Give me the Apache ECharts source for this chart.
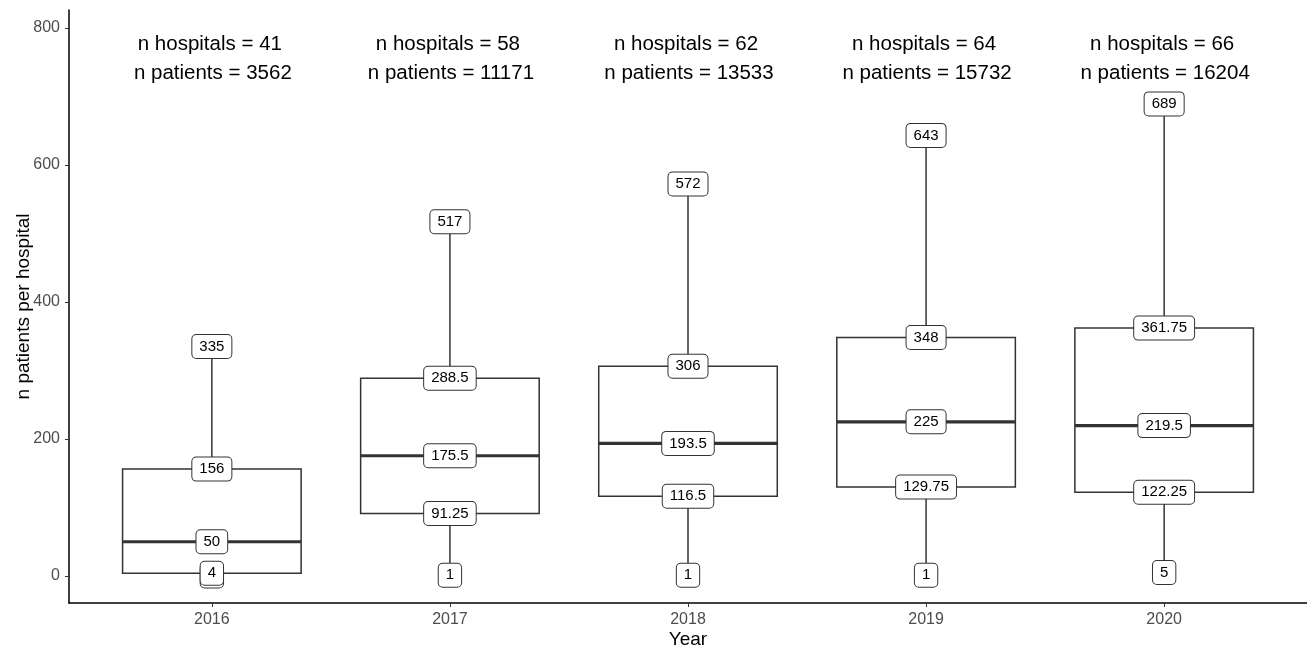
<!DOCTYPE html>
<html>
<head>
<meta charset="utf-8">
<script src="https://cdn.jsdelivr.net/npm/echarts@6/dist/echarts.min.js"></script>
<style>
html,body{margin:0;padding:0;background:#fff;}
#chart{width:1307px;height:649px;}
</style>
</head>
<body>
<div id="chart"></div>
<script>
var years = ['2016', '2017', '2018', '2019', '2020'];
var minVals = [0, 1, 1, 1, 5];
var q1Vals = [4, 91.25, 116.5, 129.75, 122.25];
var medianVals = [50, 175.5, 193.5, 225, 219.5];
var q3Vals = [156, 288.5, 306, 348, 361.75];
var maxVals = [335, 517, 572, 643, 689];
var nHospitals = [41, 58, 62, 64, 66];
var nPatients = [3562, 11171, 13533, 15732, 16204];
var yTicks = [0, 200, 400, 600, 800];
var hospTextY = 776;
var patTextY = 734;

var boxData = years.map(function (y, i) {
  return [i + 1, minVals[i], q1Vals[i], medianVals[i], q3Vals[i], maxVals[i]];
});
var annData = years.map(function (y, i) {
  return [i + 1, nHospitals[i], nPatients[i]];
});

var lineColor = '#333333';
var FONT = '"Liberation Sans", Arial, sans-serif';

function labelEl(x, y, txt) {
  return {
    type: 'text',
    x: x, y: y,
    style: {
      text: txt,
      fontSize: 15,
      fontFamily: FONT,
      fill: '#000',
      align: 'center',
      verticalAlign: 'middle',
      backgroundColor: '#fff',
      borderColor: '#333',
      borderWidth: 1,
      borderRadius: 4,
      padding: [5, 7, 3, 7]
    },
    z2: 10
  };
}

function renderBox(params, api) {
  var x = api.value(0);
  var vmin = api.value(1), vq1 = api.value(2), vmed = api.value(3), vq3 = api.value(4), vmax = api.value(5);
  var c = api.coord([x, 0]);
  var left = api.coord([x - 0.375, 0])[0];
  var right = api.coord([x + 0.375, 0])[0];
  var yMin = api.coord([x, vmin])[1];
  var yQ1 = api.coord([x, vq1])[1];
  var yMed = api.coord([x, vmed])[1];
  var yQ3 = api.coord([x, vq3])[1];
  var yMax = api.coord([x, vmax])[1];
  var cx = c[0];
  var ls = { stroke: lineColor, lineWidth: 1.5, fill: null };
  return {
    type: 'group',
    children: [
      { type: 'line', shape: { x1: cx, y1: yQ3, x2: cx, y2: yMax }, style: ls },
      { type: 'line', shape: { x1: cx, y1: yMin, x2: cx, y2: yQ1 }, style: ls },
      { type: 'rect', shape: { x: left, y: yQ3, width: right - left, height: yQ1 - yQ3 }, style: { stroke: lineColor, lineWidth: 1.5, fill: '#fff' } },
      { type: 'line', shape: { x1: left, y1: yMed, x2: right, y2: yMed }, style: { stroke: lineColor, lineWidth: 3.2 } },
      labelEl(cx, yMin, String(vmin)),
      labelEl(cx, yMax, String(vmax)),
      labelEl(cx, yQ1, String(vq1)),
      labelEl(cx, yQ3, String(vq3)),
      labelEl(cx, yMed, String(vmed))
    ]
  };
}

function renderAnn(params, api) {
  var x = api.value(0);
  var p1 = api.coord([x, hospTextY]);
  var p2 = api.coord([x, patTextY]);
  var st = { fontSize: 20.5, fontFamily: FONT, fill: '#000', align: 'center', verticalAlign: 'middle' };
  return {
    type: 'group',
    children: [
      { type: 'text', x: p1[0] - 2, y: p1[1], style: Object.assign({ text: 'n hospitals = ' + api.value(1) }, st) },
      { type: 'text', x: p2[0] + 1, y: p2[1], style: Object.assign({ text: 'n patients = ' + api.value(2) }, st) }
    ]
  };
}

var chart = echarts.init(document.getElementById('chart'), null, { renderer: 'canvas' });
chart.setOption({
  animation: false,
  backgroundColor: '#fff',
  grid: { left: 69, right: 0, top: 10, bottom: 46, containLabel: false, outerBoundsMode: 'none' },
  xAxis: {
    type: 'value',
    min: 0.4, max: 5.6,
    name: 'Year',
    nameLocation: 'middle',
    nameGap: 27,
    nameMoveOverlap: false,
    nameTextStyle: { fontSize: 19, fontFamily: FONT, color: '#000', verticalAlign: 'top' },
    axisLine: { show: true, onZero: false, lineStyle: { color: '#000', width: 1.5 } },
    axisTick: { show: true, customValues: [1, 2, 3, 4, 5], length: 4, lineStyle: { color: '#333', width: 1 } },
    axisLabel: {
      customValues: [1, 2, 3, 4, 5],
      formatter: function (v) { return years[Math.round(v) - 1] || ''; },
      fontSize: 16, fontFamily: FONT, color: '#4d4d4d', margin: 9
    },
    splitLine: { show: false }
  },
  yAxis: {
    type: 'value',
    min: -39.4, max: 826,
    name: 'n patients per hospital',
    nameLocation: 'middle',
    nameGap: 36,
    nameMoveOverlap: false,
    nameRotate: 90,
    nameTextStyle: { fontSize: 19, fontFamily: FONT, color: '#000', verticalAlign: 'bottom' },
    axisLine: { show: true, onZero: false, lineStyle: { color: '#000', width: 1.5 } },
    axisTick: { show: true, customValues: yTicks, length: 4, lineStyle: { color: '#333', width: 1 } },
    axisLabel: {
      customValues: yTicks,
      fontSize: 16, fontFamily: FONT, color: '#4d4d4d', margin: 9
    },
    splitLine: { show: false }
  },
  series: [
    { type: 'custom', renderItem: renderBox, data: boxData, encode: { x: 0, y: [1, 5] }, clip: false },
    { type: 'custom', renderItem: renderAnn, data: annData, encode: { x: 0 }, clip: false }
  ]
});
</script>
</body>
</html>
